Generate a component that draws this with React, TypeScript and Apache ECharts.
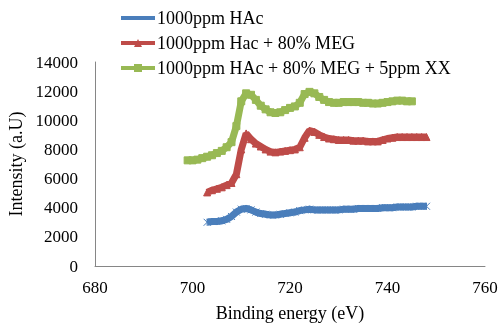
import React, { useEffect, useRef } from "react";
import * as echarts from "echarts";

const seriesNames = [
  "1000ppm HAc",
  "1000ppm Hac + 80% MEG",
  "1000ppm HAc + 80% MEG + 5ppm XX",
];

const blueX = [703,704,705,706,707,708,709,710,711,712,713,714,715,716,717,718,719,720,721,722,723,724,725,726,727,728,729,730,731,732,733,734,735,736,737,738,739,740,741,742,743,744,745,746,747,748];
const blueY = [3000,3050,3050,3100,3200,3400,3700,3900,3950,3850,3700,3600,3550,3500,3500,3550,3600,3650,3700,3800,3850,3900,3850,3850,3850,3850,3850,3850,3900,3900,3900,3950,3950,3950,3950,3950,4000,4000,4000,4050,4050,4050,4050,4100,4100,4100];

const redX = [703,704,705,706,707,708,709,710,711,712,713,714,715,716,717,718,719,720,721,722,723,724,725,726,727,728,729,730,731,732,733,734,735,736,737,738,739,740,741,742,743,744,745,746,747,748];
const redY = [5050,5200,5300,5400,5550,5700,6300,8000,9100,8700,8400,8200,8000,7850,7800,7850,7900,7950,8000,8150,8800,9300,9200,9000,8850,8750,8700,8650,8650,8650,8600,8600,8600,8550,8550,8550,8650,8750,8800,8850,8850,8850,8850,8850,8850,8850];

const greenX = [699,700,701,702,703,704,705,706,707,708,709,710,711,712,713,714,715,716,717,718,719,720,721,722,723,724,725,726,727,728,729,730,731,732,733,734,735,736,737,738,739,740,741,742,743,744,745];
const greenY = [7250,7250,7300,7400,7500,7600,7750,7900,8150,8500,9600,11300,11850,11750,11400,11000,10750,10550,10500,10550,10700,10850,10950,11200,11800,11950,11850,11600,11400,11250,11200,11200,11250,11250,11250,11250,11200,11200,11150,11150,11200,11250,11300,11350,11350,11300,11300];

const colors = ["#4a7ebb", "#be4b48", "#98b954"];
const symbols = [
  "path://M0,0 L10,10 M10,0 L0,10 M5,0 L5,10",
  "triangle",
  "rect",
];

const FONT = "'Liberation Serif', 'Times New Roman', serif";

function zip(xs: number[], ys: number[]) {
  return xs.map((x, i) => [x, ys[i]]);
}

export default function App() {
  const ref = useRef<HTMLDivElement>(null);
  useEffect(() => {
    if (!ref.current) return;
    const chart = echarts.init(ref.current, undefined, { renderer: "svg" });
    const datasets = [zip(blueX, blueY), zip(redX, redY), zip(greenX, greenY)];
    chart.setOption({
      animation: false,
      textStyle: { fontFamily: FONT },
      legend: {
        orient: "vertical",
        left: 114,
        top: 4,
        itemWidth: 34,
        itemHeight: 10,
        itemGap: 7,
        lineStyle: { width: 4 },
        textStyle: { fontFamily: FONT, fontSize: 18, color: "#000", padding: [0, 0, 0, -3] },
        data: seriesNames,
      },
      grid: { left: 95, right: 15, top: 62, bottom: 57, outerBoundsMode: "none", containLabel: false },
      xAxis: {
        type: "value",
        min: 680,
        max: 760,
        interval: 20,
        name: "Binding energy (eV)",
        nameLocation: "middle",
        nameGap: 38,
        nameTextStyle: { fontFamily: FONT, fontSize: 18, color: "#000" },
        axisLine: { lineStyle: { color: "#868686" } },
        axisTick: { show: false },
        splitLine: { show: false },
        axisLabel: { margin: 13, fontFamily: FONT, fontSize: 17, color: "#000" },
      },
      yAxis: {
        type: "value",
        min: 0,
        max: 14000,
        interval: 2000,
        name: "Intensity (a.U)",
        nameLocation: "middle",
        nameGap: 67,
        nameTextStyle: { fontFamily: FONT, fontSize: 18, color: "#000" },
        axisLine: { show: true, lineStyle: { color: "#868686" } },
        axisTick: { show: false },
        splitLine: { show: false },
        axisLabel: {
          margin: 17,
          fontFamily: FONT,
          fontSize: 17,
          color: "#000",
          formatter: (v: number) => String(v),
        },
      },
      series: datasets.map((d, i) => ({
        name: seriesNames[i],
        type: "line",
        data: d,
        symbol: symbols[i],
        symbolSize: 7,
        showAllSymbol: true,
        lineStyle: { color: colors[i], width: 7 },
        itemStyle: { color: colors[i], borderColor: colors[i] },
      })),
    });
    return () => chart.dispose();
  }, []);
  return (
    <div
      ref={ref}
      style={{ position: "fixed", left: 0, top: 0, width: 500, height: 323 }}
    />
  );
}
